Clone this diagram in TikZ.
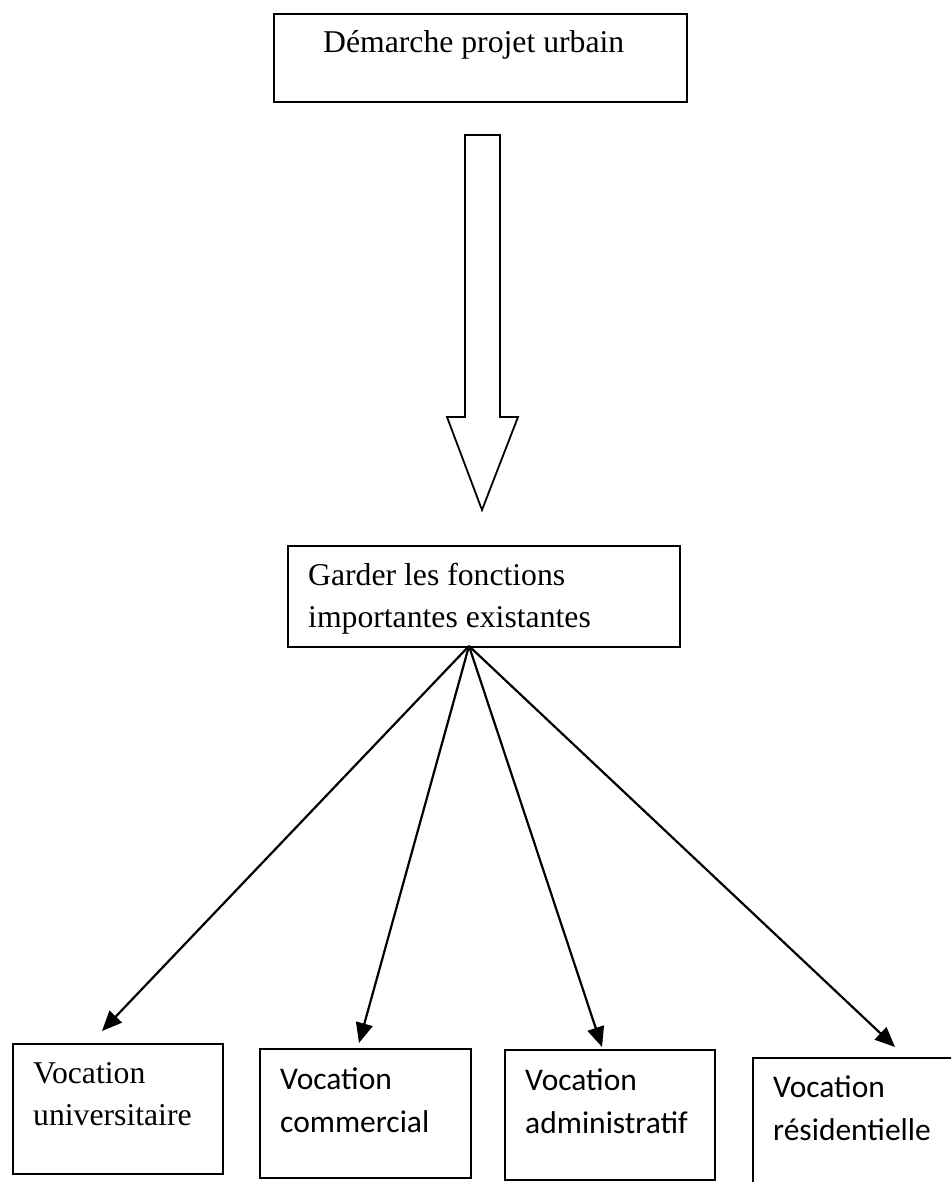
\documentclass[tikz,border=0pt]{standalone}
\usepackage{fontspec}
\setmainfont{Liberation Serif}
\newfontfamily\calib{Carlito}
\usetikzlibrary{arrows.meta}
\tikzset{
  box/.style={draw, line width=2pt, rectangle, anchor=north west, inner sep=0pt},
  serif/.style={anchor=base west, align=left, inner sep=0pt, font=\fontsize{31.7}{42.5}\selectfont},
  sans/.style={anchor=base west, align=left, inner sep=0pt, font=\calib\fontsize{31.5}{43}\selectfont},
  link/.style={line width=2.2pt, -{Triangle[length=20pt,width=17pt]}},
}
\begin{document}
\begin{tikzpicture}[x=1pt,y=-1pt]
\useasboundingbox (0,0) rectangle (951,1182);
\clip (0,0) rectangle (951,1182);
% top box
\node[box, minimum width=413pt, minimum height=88pt] (top) at (273,13) {};
\node[serif] (toptxt) at (323,53) {Démarche projet urbain};
% block arrow
\draw[line width=1.8pt, line join=miter] (465,135) -- (500,135) -- (500,417) -- (518,417) -- (482,510) -- (447,417) -- (465,417) -- cycle;
% middle box
\node[box, minimum width=392pt, minimum height=101pt] (mid) at (287,545) {};
\node[serif] (midtxt) at (308,627.5) {Garder les fonctions\\importantes existantes};
\coordinate (o) at (469,646);
% bottom boxes
\node[box, minimum width=210pt, minimum height=130pt] (b1) at (12,1043) {};
\node[serif] (b1txt) at (33,1125.5) {Vocation\\universitaire};
\node[box, minimum width=211pt, minimum height=129pt] (b2) at (259,1048) {};
\node[sans] (b2txt) at (280,1132) {Vocation\\commercial};
\node[box, minimum width=210pt, minimum height=130pt] (b3) at (504,1049) {};
\node[sans] (b3txt) at (525,1133) {Vocation\\administratif};
\node[box, minimum width=260pt, minimum height=200pt] (b4) at (752,1057) {};
\node[sans] (b4txt) at (773,1140) {Vocation\\résidentielle};
% arrow tips
\coordinate (t1) at (102,1031);
\coordinate (t2) at (359,1043);
\coordinate (t3) at (602,1047);
\coordinate (t4) at (895,1047);
\draw[link] (o) -- (t1);
\draw[link] (o) -- (t2);
\draw[link] (o) -- (t3);
\draw[link] (o) -- (t4);
\end{tikzpicture}
\end{document}
